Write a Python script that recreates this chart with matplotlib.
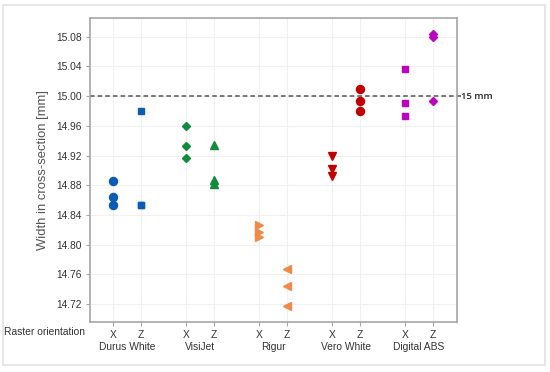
import matplotlib
matplotlib.use("Agg")
import matplotlib.pyplot as plt
from matplotlib.patches import Rectangle

plt.rcParams['font.family'] = ['Liberation Sans', 'DejaVu Sans']

materials = ["Durus White", "VisiJet", "Rigur", "Vero White", "Digital ABS"]
orientations = ["X", "Z"]
colors = ["#0b5cb5", "#108a3c", "#f08a4b", "#c00000", "#c000c0"]
markers_x = ["o", "D", ">", "v", "s"]
markers_z = ["s", "^", "<", "o", "D"]

durus_x = [14.886, 14.864, 14.854]
durus_z = [14.980, 14.854, 14.854]
visijet_x = [14.960, 14.933, 14.917]
visijet_z = [14.934, 14.887, 14.881]
rigur_x = [14.827, 14.817, 14.811]
rigur_z = [14.767, 14.744, 14.717]
vero_x = [14.919, 14.902, 14.892]
vero_z = [15.010, 14.993, 14.980]
abs_x = [15.037, 14.990, 14.973]
abs_z = [15.083, 15.080, 14.993]

series = [(durus_x, durus_z), (visijet_x, visijet_z), (rigur_x, rigur_z),
          (vero_x, vero_z), (abs_x, abs_z)]
y_ticks = [14.72, 14.76, 14.80, 14.84, 14.88, 14.92, 14.96, 15.00, 15.04, 15.08]
nominal = 15.00

msize = {"o": 5.8, "s": 4.0, "D": 4.2, ">": 5.2, "<": 5.2, "v": 5.2, "^": 5.2}

fig = plt.figure(figsize=(5.5, 3.72), dpi=100)
fig.patches.append(Rectangle((3/550, 1-365/372), 542/550, 360/372, transform=fig.transFigure,
                             fill=False, edgecolor="#e2e2e2", lw=1.2))
ax = fig.add_axes([90/550, 1-322/372, 367/550, 304/372])

positions = []
for i, (xs, zs) in enumerate(series):
    px = i * 2.6
    pz = px + 1
    positions += [px, pz]
    ax.plot([px]*len(xs), xs, linestyle="none", marker=markers_x[i], color=colors[i],
            markersize=msize[markers_x[i]], zorder=3)
    ax.plot([pz]*len(zs), zs, linestyle="none", marker=markers_z[i], color=colors[i],
            markersize=msize[markers_z[i]], zorder=3)

ax.set_xlim(-0.82, 4*2.6 + 1 + 0.86)
ax.set_ylim(14.696, 15.105)
ax.set_yticks(y_ticks)
ax.set_yticklabels([f"{v:.2f}" for v in y_ticks], fontsize=7.4, color="#333333")
ax.set_xticks(positions)
ax.set_xticklabels(orientations * len(materials), fontsize=7.4, color="#333333")
ax.grid(True, color="#f0f0f0", lw=0.8)
ax.set_axisbelow(True)
for s in ax.spines.values():
    s.set_color("#a6a6a6")
    s.set_linewidth(1.2)
ax.tick_params(color="#a6a6a6", length=3, pad=3)

ax.axhline(nominal, color="#555555", ls=(0, (3, 2)), lw=1.1, zorder=2)
ax.plot([1.0, 1.01], [nominal, nominal], transform=ax.get_yaxis_transform(),
        color="#555555", ls="--", lw=1.1, clip_on=False)
ax.text(1.011, nominal, "15 mm", transform=ax.get_yaxis_transform(), va="center", ha="left",
        fontsize=6.8, fontweight="semibold", color="#222222", family=["Open Sans", "DejaVu Sans"])

ax.set_ylabel("Width in cross-section [mm]", fontsize=9.4, color="#555555", labelpad=5)

for i, m in enumerate(materials):
    ax.text(i*2.6 + 0.5, 14.696 - 0.0335, m, ha="center", va="center", fontsize=7.4,
            color="#333333", transform=ax.transData, clip_on=False)
fig.text(4/550, 1-332/372, "Raster orientation", ha="left", va="center", fontsize=7.4,
         color="#333333")

fig.savefig("out.png", dpi=100)
